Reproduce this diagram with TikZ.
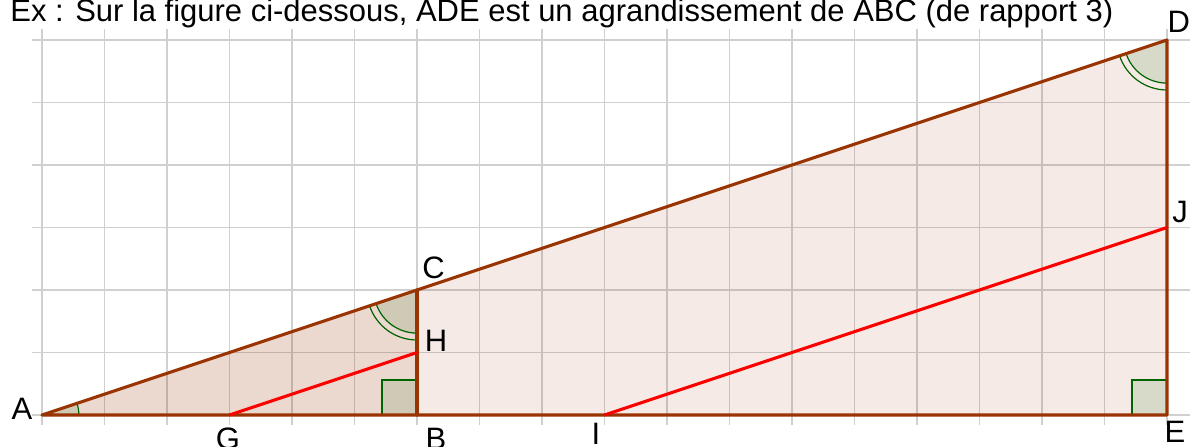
\documentclass[tikz,border=0pt]{standalone}
\usepackage{fontspec}
\setmainfont{Liberation Sans}
\begin{document}
\begin{tikzpicture}[x=1cm,y=1cm,
  gridline/.style={draw={rgb,255:red,208;green,208;blue,208}, line width=0.8pt},
  tri/.style={fill={rgb,255:red,153;green,51;blue,0}, fill opacity=0.1},
  edge/.style={draw={rgb,255:red,153;green,51;blue,0}, line width=1.4pt, line cap=round, line join=round},
  seg/.style={draw=red, line width=1.4pt},
  angfill/.style={fill={rgb,255:red,0;green,100;blue,0}, fill opacity=0.12},
  angline/.style={draw={rgb,255:red,0;green,100;blue,0}, line width=0.55pt},
  lbl/.style={font=\fontsize{14.1pt}{16pt}\selectfont, inner sep=0pt}
]
\useasboundingbox (-0.672,-0.512) rectangle (18.4,6.64);
% grid
\foreach \i in {0,...,18} \draw[gridline] (\i,-0.16) -- (\i,6.18);
\foreach \j in {0,...,6} \draw[gridline] (-0.16,\j) -- (18.37,\j);
% points
\coordinate (A) at (0,0);
\coordinate (B) at (6,0);
\coordinate (C) at (6,2);
\coordinate (D) at (18,6);
\coordinate (E) at (18,0);
\coordinate (G) at (3,0);
\coordinate (H) at (6,1);
\coordinate (I) at (9,0);
\coordinate (J) at (18,3);
% fills
\fill[tri] (A) -- (E) -- (D) -- cycle;
\fill[tri] (A) -- (B) -- (C) -- cycle;
% angle at A
\fill[angfill] (A) -- ++(0:0.59) arc[start angle=0, end angle=18.435, radius=0.59] -- cycle;
\draw[angline] ([shift={(0:0.59)}]A) arc[start angle=0, end angle=18.435, radius=0.59];
% angle at C
\fill[angfill] (C) -- ([shift={(198.435:0.69)}]C) arc[start angle=198.435, end angle=270, radius=0.69] -- cycle;
\draw[angline] ([shift={(198.435:0.69)}]C) arc[start angle=198.435, end angle=270, radius=0.69];
\draw[angline] ([shift={(198.435:0.8)}]C) arc[start angle=198.435, end angle=270, radius=0.8];
% angle at D
\fill[angfill] (D) -- ([shift={(198.435:0.69)}]D) arc[start angle=198.435, end angle=270, radius=0.69] -- cycle;
\draw[angline] ([shift={(198.435:0.69)}]D) arc[start angle=198.435, end angle=270, radius=0.69];
\draw[angline] ([shift={(198.435:0.8)}]D) arc[start angle=198.435, end angle=270, radius=0.8];
% right angles
\fill[angfill] (B) rectangle ++(-0.56,0.56);
\draw[angline] (B) ++(-0.56,0) -- ++(0,0.56) -- ++(0.56,0);
\fill[angfill] (E) rectangle ++(-0.56,0.56);
\draw[angline] (E) ++(-0.56,0) -- ++(0,0.56) -- ++(0.56,0);
% edges
\draw[edge] (A) -- (E) -- (D) -- cycle;
\draw[edge] (B) -- (C);
% red segments
\draw[seg] (G) -- (H);
\draw[seg] (I) -- (J);
% labels
\node[lbl] (lA) at (-0.32,0.096) {A};
\node[lbl] (lG) at (2.976,-0.376) {G};
\node[lbl] (lB) at (6.304,-0.376) {B};
\node[lbl] (lI) at (8.864,-0.296) {I};
\node[lbl] (lE) at (18.128,-0.264) {E};
\node[lbl] (lC) at (6.264,2.352) {C};
\node[lbl] (lH) at (6.304,1.184) {H};
\node[lbl] (lJ) at (18.208,3.24) {J};
\node[lbl] (lD) at (18.19,6.296) {D};
\node[lbl, anchor=base west] (title) at (-0.512,6.29) {Ex : Sur la figure ci-dessous, ADE est un agrandissement de ABC (de rapport 3)};
\end{tikzpicture}
\end{document}
